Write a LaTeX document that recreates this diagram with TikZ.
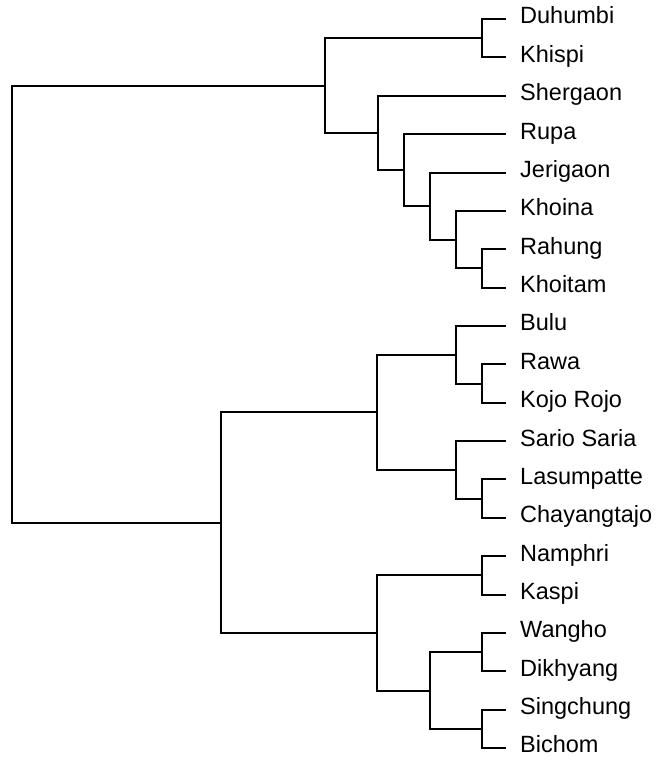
\documentclass[tikz,border=0pt]{standalone}
\usepackage{fontspec}
\setmainfont{Liberation Sans}
\usepackage{tikz}
\usetikzlibrary{positioning}

\begin{document}
\begin{tikzpicture}[
  x=1pt, y=-1pt,
  leaf/.style={anchor=west, inner xsep=14pt, inner ysep=0pt,
               text height=0.98em, text depth=0pt,
               font=\fontsize{23.5}{27}\selectfont},
  branch/.style={line width=2pt, line join=miter, color=black},
]
  \useasboundingbox (0,0) rectangle (658,764);

  % leaves
  \node[leaf] (duhumbi)   at (506,19)    {Duhumbi};
  \node[leaf] (khispi)    at (506,57.4)  {Khispi};
  \node[leaf] (shergaon)  at (506,95.7)  {Shergaon};
  \node[leaf] (rupa)      at (506,134.1) {Rupa};
  \node[leaf] (jerigaon)  at (506,172.5) {Jerigaon};
  \node[leaf] (khoina)    at (506,210.9) {Khoina};
  \node[leaf] (rahung)    at (506,249.2) {Rahung};
  \node[leaf] (khoitam)   at (506,287.6) {Khoitam};
  \node[leaf] (bulu)      at (506,326)   {Bulu};
  \node[leaf] (rawa)      at (506,364.3) {Rawa};
  \node[leaf] (kojo)      at (506,402.7) {Kojo Rojo};
  \node[leaf] (sario)     at (506,441.1) {Sario Saria};
  \node[leaf] (lasumpatte) at (506,479.4) {Lasumpatte};
  \node[leaf] (chayang)   at (506,517.8) {Chayangtajo};
  \node[leaf] (namphri)   at (506,556.2) {Namphri};
  \node[leaf] (kaspi)     at (506,594.6) {Kaspi};
  \node[leaf] (wangho)    at (506,632.9) {Wangho};
  \node[leaf] (dikhyang)  at (506,671.3) {Dikhyang};
  \node[leaf] (singchung) at (506,709.7) {Singchung};
  \node[leaf] (bichom)    at (506,748)   {Bichom};

  % inner nodes of the tree
  \coordinate (dk)   at (482,38.2);
  \coordinate (rk)   at (482,268.4);
  \coordinate (kh)   at (456,239.7);
  \coordinate (je)   at (430,206.1);
  \coordinate (ru)   at (404,170.1);
  \coordinate (sh)   at (378,132.9);
  \coordinate (west) at (325,85.6);
  \coordinate (rk2)  at (482,383.5);
  \coordinate (bu)   at (456,354.8);
  \coordinate (lc)   at (482,498.6);
  \coordinate (sa)   at (456,469.9);
  \coordinate (cen)  at (377,412.3);
  \coordinate (nk)   at (482,575.4);
  \coordinate (wd)   at (482,652.1);
  \coordinate (sb)   at (482,728.9);
  \coordinate (wsb)  at (430,690.5);
  \coordinate (eas)  at (377,633);
  \coordinate (east) at (221,522.6);
  \coordinate (root) at (12,304.1);

  \draw[branch] (root) |- (west);
  \draw[branch] (root) |- (east);
  \draw[branch] (west) |- (dk);
  \draw[branch] (west) |- (sh);
  \draw[branch] (dk) |- (duhumbi.west);
  \draw[branch] (dk) |- (khispi.west);
  \draw[branch] (sh) |- (shergaon.west);
  \draw[branch] (sh) |- (ru);
  \draw[branch] (ru) |- (rupa.west);
  \draw[branch] (ru) |- (je);
  \draw[branch] (je) |- (jerigaon.west);
  \draw[branch] (je) |- (kh);
  \draw[branch] (kh) |- (khoina.west);
  \draw[branch] (kh) |- (rk);
  \draw[branch] (rk) |- (rahung.west);
  \draw[branch] (rk) |- (khoitam.west);
  \draw[branch] (east) |- (cen);
  \draw[branch] (east) |- (eas);
  \draw[branch] (cen) |- (bu);
  \draw[branch] (cen) |- (sa);
  \draw[branch] (bu) |- (bulu.west);
  \draw[branch] (bu) |- (rk2);
  \draw[branch] (rk2) |- (rawa.west);
  \draw[branch] (rk2) |- (kojo.west);
  \draw[branch] (sa) |- (sario.west);
  \draw[branch] (sa) |- (lc);
  \draw[branch] (lc) |- (lasumpatte.west);
  \draw[branch] (lc) |- (chayang.west);
  \draw[branch] (eas) |- (nk);
  \draw[branch] (eas) |- (wsb);
  \draw[branch] (nk) |- (namphri.west);
  \draw[branch] (nk) |- (kaspi.west);
  \draw[branch] (wsb) |- (wd);
  \draw[branch] (wsb) |- (sb);
  \draw[branch] (wd) |- (wangho.west);
  \draw[branch] (wd) |- (dikhyang.west);
  \draw[branch] (sb) |- (singchung.west);
  \draw[branch] (sb) |- (bichom.west);
\end{tikzpicture}
\end{document}
